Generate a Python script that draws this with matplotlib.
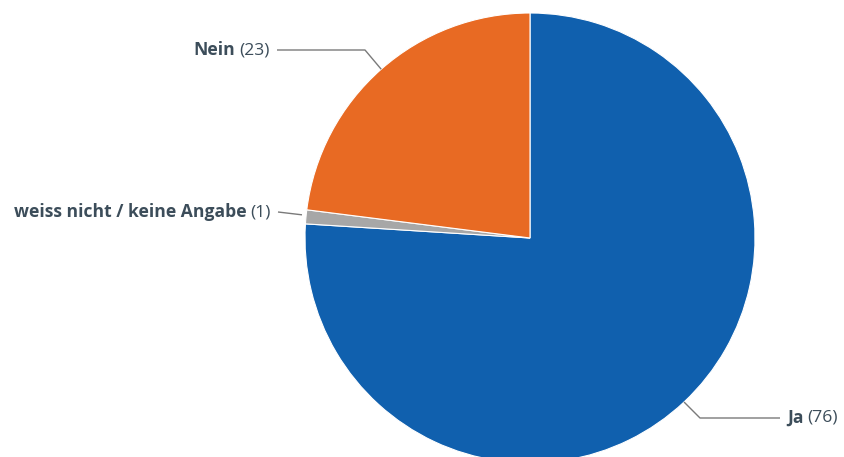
import matplotlib.pyplot as plt
import numpy as np

# survey answers
labels = ["Ja", "weiss nicht / keine Angabe", "Nein"]
counts = [76, 1, 23]
colors = ["#1060ae", "#a7a7a7", "#e86a23"]

W, H = 845, 457
fig = plt.figure(figsize=(W / 100, H / 100), dpi=100)
ax = fig.add_axes([0, 0, 1, 1])

cx, cy, r = 530, 219, 225
wedges, _ = ax.pie(counts, colors=colors, startangle=90, counterclock=False,
                   center=(cx, cy), radius=r, frame=True,
                   wedgeprops=dict(edgecolor="white", linewidth=0.8))
ax.set_xlim(0, W)
ax.set_ylim(0, H)
ax.set_aspect("equal")
ax.axis("off")

txt_color = "#3c4d5a"
line_color = "#7a7a7a"
font = "Open Sans"
fs = 12.6

# connector geometry: elbow point, end of horizontal line, side of label
layout = {
    "Ja": dict(elbow=(700, 39), end=780, side="right"),
    "Nein": dict(elbow=(365, 407), end=277, side="left"),
    "weiss nicht / keine Angabe": dict(elbow=None, end=278, side="left", ey=245),
}

fig.canvas.draw()
renderer = fig.canvas.get_renderer()
inv = ax.transData.inverted()


def text_width(t):
    bb = t.get_window_extent(renderer)
    p0 = inv.transform((bb.x0, bb.y0))
    p1 = inv.transform((bb.x1, bb.y1))
    return p1[0] - p0[0]


for w, lab, n in zip(wedges, labels, counts):
    mid = np.deg2rad((w.theta1 + w.theta2) / 2)
    px, py = cx + r * np.cos(mid), cy + r * np.sin(mid)
    cfg = layout[lab]
    if cfg["elbow"] is not None:
        ex, ey = cfg["elbow"]
        xs = [px, ex, cfg["end"]]
        ys = [py, ey, ey]
    else:
        ey = cfg["ey"]
        xs = [px - 4, cfg["end"]]
        ys = [py + 2, ey]
    ax.plot(xs, ys, color=line_color, lw=1, solid_capstyle="butt")
    ty = ys[-1]
    if cfg["side"] == "right":
        x0 = cfg["end"] + 7
        tb = ax.text(x0, ty, lab, fontsize=fs, fontweight="bold", family=font,
                     color=txt_color, ha="left", va="center")
        wb = text_width(tb)
        ax.text(x0 + wb + 4, ty, f"({n})", fontsize=fs, family=font,
                color=txt_color, ha="left", va="center")
    else:
        x1 = cfg["end"] - 7
        tr = ax.text(x1, ty, f"({n})", fontsize=fs, family=font,
                     color=txt_color, ha="right", va="center")
        wr = text_width(tr)
        ax.text(x1 - wr - 4, ty, lab, fontsize=fs, fontweight="bold", family=font,
                color=txt_color, ha="right", va="center")

fig.savefig("out.png", dpi=100)
